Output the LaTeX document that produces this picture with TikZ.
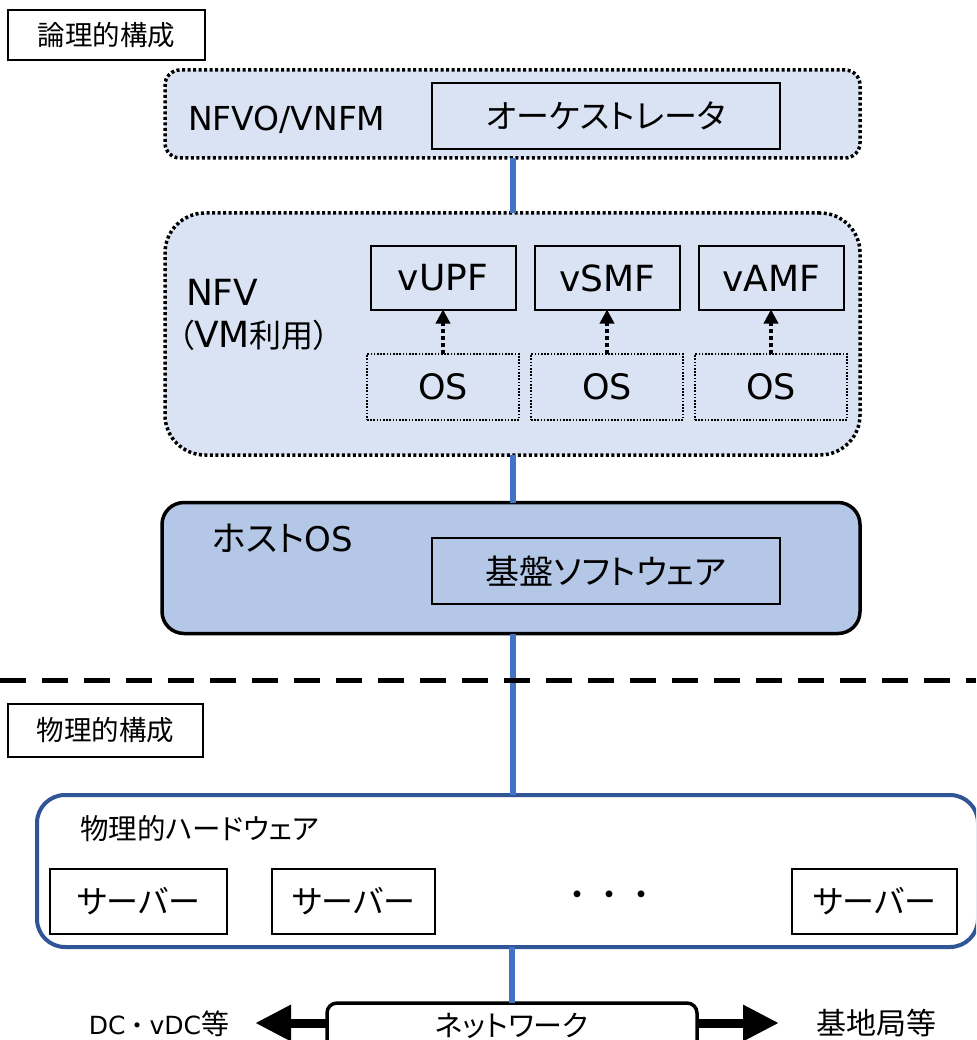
\documentclass[tikz,border=0pt]{standalone}
\usepackage{fontspec}
\setmainfont{DejaVu Sans}
\newfontfamily\jp[RawFeature=+palt]{Noto Sans CJK JP}
\newfontfamily\jpfull{Noto Sans CJK JP}
\usetikzlibrary{arrows.meta}
\definecolor{lightfill}{HTML}{DAE3F3}
\definecolor{hostfill}{HTML}{B4C7E7}
\definecolor{linkblue}{HTML}{4472C4}
\definecolor{hwblue}{HTML}{2F5597}
\newcommand\setfs[1]{\fontsize{#1}{#1}\selectfont}
\tikzset{
  thinbox/.style={draw=black, line width=2pt, inner sep=0pt, outer sep=0pt},
  dotcontainer/.style={draw=black, fill=lightfill, line width=3.5pt, dash pattern=on 3pt off 2.5pt, inner sep=0pt, outer sep=0pt},
  osbox/.style={draw=black, line width=1.6pt, dash pattern=on 1.6pt off 1.6pt, inner sep=0pt, outer sep=0pt, minimum width=152pt, minimum height=66pt},
  vnfbox/.style={thinbox, fill=lightfill, minimum width=145pt, minimum height=63pt},
  serverbox/.style={thinbox, fill=white, minimum height=65pt},
  link/.style={draw=linkblue, line width=6pt},
  dotarrow/.style={line width=3.5pt, dash pattern=on 4pt off 3pt, -{Triangle[length=14pt,width=14pt]}},
  bigarrow/.style={line width=9pt, -{Triangle[length=36pt,width=34pt]}},
  lbl/.style={inner sep=0pt, outer sep=0pt}
}
\begin{document}
\begin{tikzpicture}[x=1pt,y=-1pt]
\useasboundingbox (0,0) rectangle (976,1040);
\clip (0,0) rectangle (976,1040);

% logical label
\node[thinbox, fill=white, minimum width=197pt, minimum height=50pt] (logi) at (106.5,35) {\jp\setfs{27.5}論理的構成};

% NFVO/VNFM
\node[dotcontainer, rounded corners=15pt, minimum width=695pt, minimum height=88pt] (nfvo) at (512.5,114) {};
\node[lbl, anchor=west] (nfvolbl) at (188,120) {\setfs{33}NFVO/VNFM};
\node[thinbox, fill=lightfill, minimum width=348pt, minimum height=66pt] (orch) at (606,116) {\jp\setfs{33}オーケストレータ};

% NFV
\node[dotcontainer, rounded corners=40pt, minimum width=695pt, minimum height=242pt] (nfv) at (512.5,334) {};
\node[lbl, anchor=west] (nfvlbl) at (186,292) {\setfs{36}NFV};
\node[lbl, anchor=west] (vmlbl) at (178,335) {\jp\setfs{32}（\setfs{36}\rmfamily VM\jp\setfs{32}利用）};

\node[vnfbox] (vupf) at (443,278) {\setfs{36}vUPF};
\node[vnfbox] (vsmf) at (607,278) {\setfs{36}vSMF};
\node[vnfbox] (vamf) at (771,278) {\setfs{36}vAMF};
\node[osbox] (os1) at (443,387) {\setfs{35}OS};
\node[osbox] (os2) at (607,387) {\setfs{35}OS};
\node[osbox] (os3) at (771,387) {\setfs{35}OS};
\draw[dotarrow] (os1.north) -- (vupf.south);
\draw[dotarrow] (os2.north) -- (vsmf.south);
\draw[dotarrow] (os3.north) -- (vamf.south);

% Host OS
\node[draw=black, fill=hostfill, line width=3.5pt, rounded corners=22pt, inner sep=0pt, outer sep=0pt, minimum width=698pt, minimum height=131pt] (host) at (511,568) {};
\node[lbl, anchor=west] (hostlbl) at (212,538) {\jp\setfs{35}ホスト\rmfamily\setfs{34}OS};
\node[thinbox, fill=hostfill, minimum width=348pt, minimum height=66pt] (kiban) at (606,571) {\jp\setfs{34}基盤ソフトウェア};

% physical label
\node[thinbox, fill=white, minimum width=195pt, minimum height=53pt] (phys) at (105.5,730.5) {\jp\setfs{27.5}物理的構成};

% hardware
\node[draw=hwblue, fill=white, line width=4pt, rounded corners=28pt, inner sep=0pt, outer sep=0pt, minimum width=941pt, minimum height=152pt] (hw) at (507.5,871) {};
\node[lbl, anchor=west] (hwlbl) at (80,829) {\jp\setfs{28.5}物理的ハードウェア};
\node[serverbox, minimum width=177pt] (s1) at (138.5,901.5) {\jp\setfs{32}サーバー};
\node[serverbox, minimum width=163pt] (s2) at (353.5,901.5) {\jp\setfs{32}サーバー};
\node[serverbox, minimum width=165pt] (s3) at (874.5,901.5) {\jp\setfs{32}サーバー};
\node[lbl] (dots) at (609,899) {\jpfull\setfs{32}・・・};

% network
\node[draw=black, fill=white, line width=3.5pt, rounded corners=10pt, inner sep=0pt, outer sep=0pt, minimum width=370pt, minimum height=56pt] (net) at (512,1031) {};
\node[lbl] (netlbl) at (512,1026) {\jp\setfs{29}ネットワーク};
\coordinate (lefttip) at (255,1023);
\coordinate (righttip) at (779,1023);
\draw[bigarrow] (net.west |- lefttip) -- (lefttip);
\draw[bigarrow] (net.east |- righttip) -- (righttip);
\node[lbl] (dclbl) at (159,1024) {\setfs{25}DC\jpfull\setfs{24}・\rmfamily\setfs{25}vDC\jp\setfs{28}等};
\node[lbl] (bslbl) at (876,1023) {\jp\setfs{30}基地局等};

% blue links
\draw[link] (nfvo.south) -- (nfv.north);
\draw[link] (nfv.south) -- (nfv.south |- host.north);
\draw[link] (nfv.south |- host.south) -- (nfv.south |- hw.north);
\draw[link] (hw.south -| net.north) -- (net.north);

% separator
\coordinate (sepL) at (0,680);
\coordinate (sepR) at (976,680);
\draw[line width=5pt, dash pattern=on 26pt off 16pt] (sepL) -- (sepR);
\end{tikzpicture}
\end{document}
